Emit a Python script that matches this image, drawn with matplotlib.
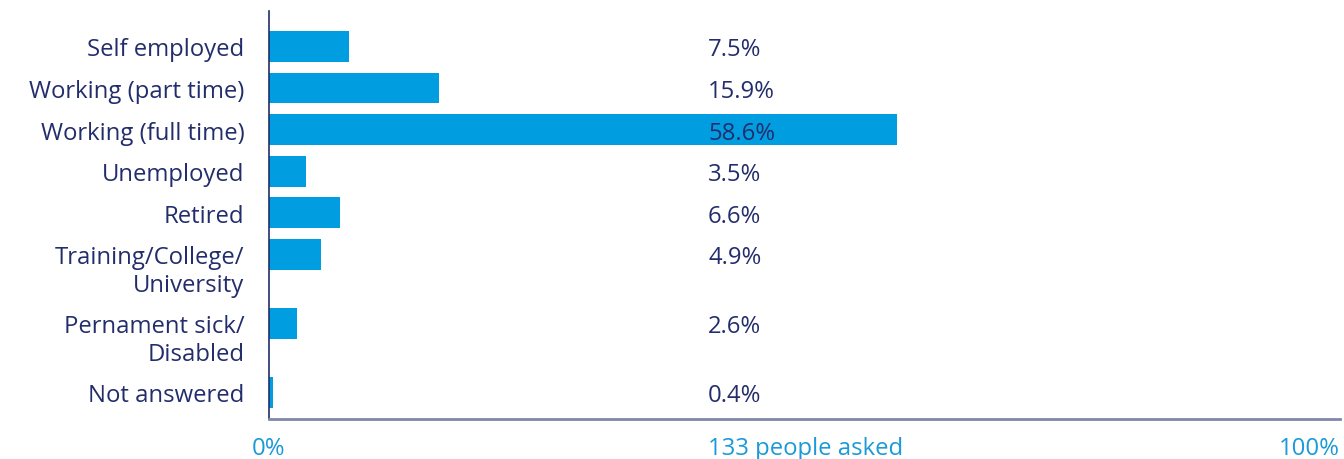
import matplotlib.pyplot as plt
from matplotlib.transforms import blended_transform_factory

plt.rcParams['font.family'] = ['Open Sans', 'DejaVu Sans']

categories = ['Self employed', 'Working (part time)', 'Working (full time)', 'Unemployed',
              'Retired', 'Training/College/\nUniversity', 'Pernament sick/\nDisabled', 'Not answered']
values = [7.5, 15.9, 58.6, 3.5, 6.6, 4.9, 2.6, 0.4]
value_labels = ['7.5%', '15.9%', '58.6%', '3.5%', '6.6%', '4.9%', '2.6%', '0.4%']
tick_labels = ['0%', '133 people asked', '100%']

navy = '#232d6b'
blue = '#009ee0'
light = '#1a9ad8'
fs = 17.2

# row positions (pixel-like units): two-line labels take extra room
pos = []
y = 0
for c in categories:
    pos.append(y)
    y += 41.6 + 27.4 * c.count('\n')

fig = plt.figure(figsize=(13.44, 4.6), dpi=100)
ax = fig.add_axes([269 / 1344, 40 / 460, 1071 / 1344, 408 / 460])

ax.barh(pos, values, height=31, color=blue, align='center')
ax.set_ylim(pos[-1] + 27, -35.5)
ax.set_xlim(0, 100)

label_x = 41
trans = blended_transform_factory(ax.transAxes, ax.transData)
for p, c, v in zip(pos, categories, value_labels):
    ax.text(label_x, p, v, va='center_baseline', ha='left', fontsize=fs, color=navy)
    for k, line in enumerate(c.split('\n')):
        ax.text(-0.023, p + 28 * k, line, va='center_baseline', ha='right', fontsize=fs,
                color=navy, transform=trans)

ax.set_yticks([])
ax.set_xticks([0, label_x, 100])
ax.set_xticklabels(tick_labels, fontsize=fs, color=light)
tl = ax.get_xticklabels()
tl[0].set_ha('center')
tl[1].set_ha('left')
tl[2].set_ha('right')
ax.tick_params(axis='x', length=0, pad=12)

for s in ['top', 'right']:
    ax.spines[s].set_visible(False)
ax.spines['left'].set_color(navy)
ax.spines['left'].set_linewidth(1.2)
ax.spines['bottom'].set_color('#8088a8')
ax.spines['bottom'].set_linewidth(2)

fig.savefig('out.png', dpi=100)
